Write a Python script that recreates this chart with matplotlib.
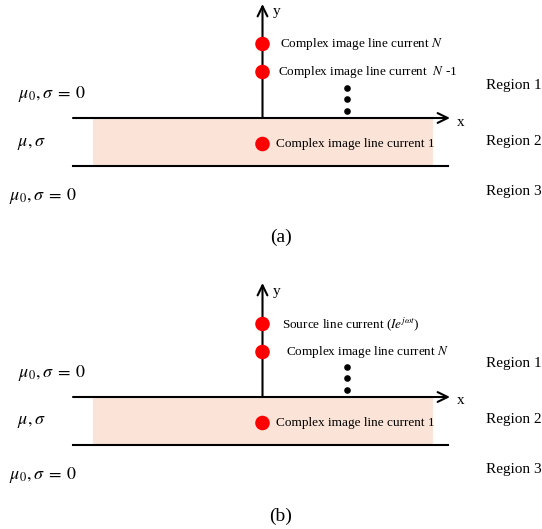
import matplotlib
matplotlib.use('Agg')
from matplotlib import pyplot as plt

plt.rcParams['font.family'] = ['Liberation Serif', 'DejaVu Serif']
plt.rcParams['mathtext.fontset'] = 'stix'

# heights of the line currents above the interface (px, y up)
dot_heights_a = [74, 46, -26]
dot_labels_a = ['Complex image line current $N$',
                'Complex image line current  $N$ -1',
                'Complex image line current 1']
dot_heights_b = [73, 45, -26]
dot_labels_b = [r'Source line current ($Ie^{j\omega t}$)',
                'Complex image line current $N$',
                'Complex image line current 1']
ellipsis_heights = [30, 19, 7]
region_labels = ['Region 1', 'Region 2', 'Region 3']
medium_labels = [r'$\mu_0, \sigma\;=\;0$', r'$\mu, \sigma$', r'$\mu_0, \sigma\;=\;0$']
panel_tags = ['(a)', '(b)']

W, H = 542, 529
fig = plt.figure(figsize=(W / 100, H / 100), dpi=100)
ax = fig.add_axes([0, 0, 1, 1])
ax.set_xlim(0, W)
ax.set_ylim(H, 0)
ax.axis('off')

x0 = 262.5
arrow = dict(arrowstyle='->, head_length=0.45, head_width=0.22', lw=1.5,
             color='black', mutation_scale=16, shrinkA=0, shrinkB=0)


def draw_panel(y0, heights, labels, label_dx, tag):
    # conducting slab
    ax.add_patch(plt.Rectangle((93, y0), 340, 48, facecolor='#fbe4d7',
                               edgecolor='none', zorder=0))
    ax.plot([73, 448], [y0 + 48, y0 + 48], color='black', lw=1.5)
    # axes with arrows
    ax.annotate('', xy=(450, y0), xytext=(73, y0), arrowprops=arrow)
    ax.annotate('', xy=(x0, y0 - 114), xytext=(x0, y0), arrowprops=arrow)
    ax.text(457, y0 + 4, 'x', fontsize=11, ha='left', va='center')
    ax.text(273, y0 - 106, 'y', fontsize=11, ha='left', va='center')

    for h, lab, dx in zip(heights, labels, label_dx):
        ax.scatter([x0], [y0 - h], s=110, color='#ff0000', zorder=3,
                   edgecolors='none')
        ax.text(x0 + dx, y0 - h, lab, fontsize=9.5, ha='left', va='center')

    ax.scatter([347] * 3, [y0 - e for e in ellipsis_heights], s=14,
               color='black', zorder=3)

    for lab, (lx, ly) in zip(medium_labels, [(18, -24), (17, 25), (9, 78)]):
        ax.text(lx, y0 + ly, lab, fontsize=13, ha='left', va='center')
    for lab, ly in zip(region_labels, [-33, 23, 73]):
        ax.text(486, y0 + ly, lab, fontsize=11, ha='left', va='center')

    ax.text(281, y0 + 119, tag, fontsize=14, ha='center', va='center')


draw_panel(118, dot_heights_a, dot_labels_a, [17, 15, 13], panel_tags[0])
draw_panel(397, dot_heights_b, dot_labels_b, [20, 24, 13], panel_tags[1])

fig.savefig('out.png', dpi=100)
